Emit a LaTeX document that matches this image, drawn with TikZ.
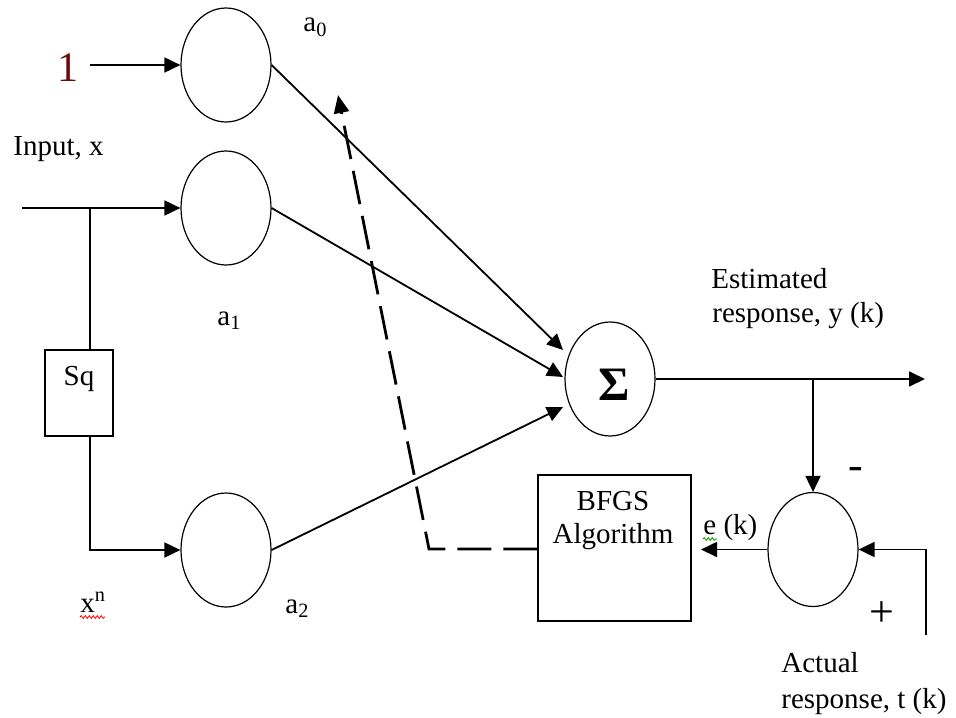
\documentclass[tikz,border=0pt]{standalone}
\usepackage{fontspec}
\setmainfont{Liberation Serif}
\usetikzlibrary{shapes.geometric,arrows.meta,calc,decorations.pathmorphing}
\definecolor{onecol}{rgb}{0.42,0.04,0.04}
\begin{document}
\begin{tikzpicture}[x=0.5pt,y=-0.5pt,
  neuron/.style={draw,ellipse,minimum width=45pt,minimum height=57pt,inner sep=0pt,line width=0.6pt},
  blk/.style={draw,rectangle,inner sep=0pt,line width=0.7pt},
  conn/.style={line width=0.9pt,-{Triangle[length=8pt,width=7.5pt]}},
  wire/.style={line width=0.9pt},
  lbl/.style={font=\fontsize{14.5}{17}\selectfont,inner sep=0pt},
  big/.style={font=\fontsize{22}{22}\selectfont,inner sep=0pt},
  fb/.style={line width=1.4pt,dash pattern=on 17pt off 6pt,-{Triangle[length=9pt,width=7.5pt]}},
  squig/.style={line width=0.4pt,decorate,decoration={snake,segment length=2pt,amplitude=0.7pt}}
]
\useasboundingbox (0,0) rectangle (956,717);

% nodes
\node[neuron] (n0) at (226,65) {};
\node[neuron] (n1) at (226,208) {};
\node[neuron] (n2) at (226,550) {};
\node[neuron] (sum) at (610,379) {};
\node[neuron] (diff) at (813,549.5) {};
\node[blk,minimum width=76.5pt,minimum height=73pt] (bfgs) at (614.5,548) {};
\node[blk,minimum width=34pt,minimum height=43pt] (sq) at (79,393) {};

% coordinates
\coordinate (one) at (90,65);
\coordinate (inp) at (22,208);
\coordinate (br) at (90,208);
\coordinate (s0) at (563,350);
\coordinate (s1) at (563,377);
\coordinate (s2) at (563,407);
\coordinate (out) at (925,379);
\coordinate (obr) at (813,379);
\coordinate (tin) at (926,635);
\coordinate (ektip) at (701,549.5);
\coordinate (fbc) at (429,549);
\coordinate (fbtip) at (338,95);

% connectors
\draw[conn] (one) -- (n0.west);
\draw[conn] (inp) -- (n1.west);
\draw[wire] (br) -- (br |- sq.north);
\draw[conn] (br |- sq.south) |- (n2.west);
\draw[conn] (n0.east) -- (s0);
\draw[conn] (n1.east) -- (s1);
\draw[conn] (n2.east) -- (s2);
\draw[conn] (sum.east) -- (out);
\draw[conn] (obr) -- (diff.north);
\draw[conn] (tin) |- (diff.east);
\draw[conn] (diff.west) -- (ektip);
\draw[fb] (bfgs.west |- fbc) -- (fbc) -- (fbtip);

% labels
\node[inner sep=0pt,font=\fontsize{21}{21}\selectfont,text=onecol,anchor=base] at (67.5,82) {1};
\node[lbl,anchor=base west] (inlbl) at (13,155) {Input, x};
\node[lbl,anchor=base west] (a0) at (303,32) {a\textsubscript{0}};
\node[lbl,anchor=base west] (a1) at (217,325) {a\textsubscript{1}};
\node[lbl,anchor=base west] (a2) at (285,613) {a\textsubscript{2}};
\node[lbl,anchor=base west] (xn) at (80,612) {x\textsuperscript{n}};
\node[lbl,anchor=base] (sqt) at (79,385) {Sq};
\node[inner sep=0pt,font=\fontsize{24}{24}\selectfont\bfseries] (sig) at (614,385) {Σ};
\node[lbl,anchor=base west] (est1) at (711,288) {Estimated};
\node[lbl,anchor=base west] (est2) at (712,322) {response, y (k)};
\node[big] (minus) at (856,473) {-};
\node[big] (plus) at (882,614) {+};
\node[lbl,anchor=base west] (ek) at (703,534) {e (k)};
\node[lbl,anchor=base west] (act1) at (781,672) {Actual};
\node[lbl,anchor=base west] (act2) at (781,708) {response, t (k)};
\node[lbl,anchor=base] (bf1) at (613,510) {BFGS};
\node[lbl,anchor=base] (bf2) at (613,543) {Algorithm};

% spell-check squiggles
\draw[squig,red] (80,617) -- (105,617);
\draw[squig,green!60!black] (703,539) -- (717,539);
\end{tikzpicture}
\end{document}
